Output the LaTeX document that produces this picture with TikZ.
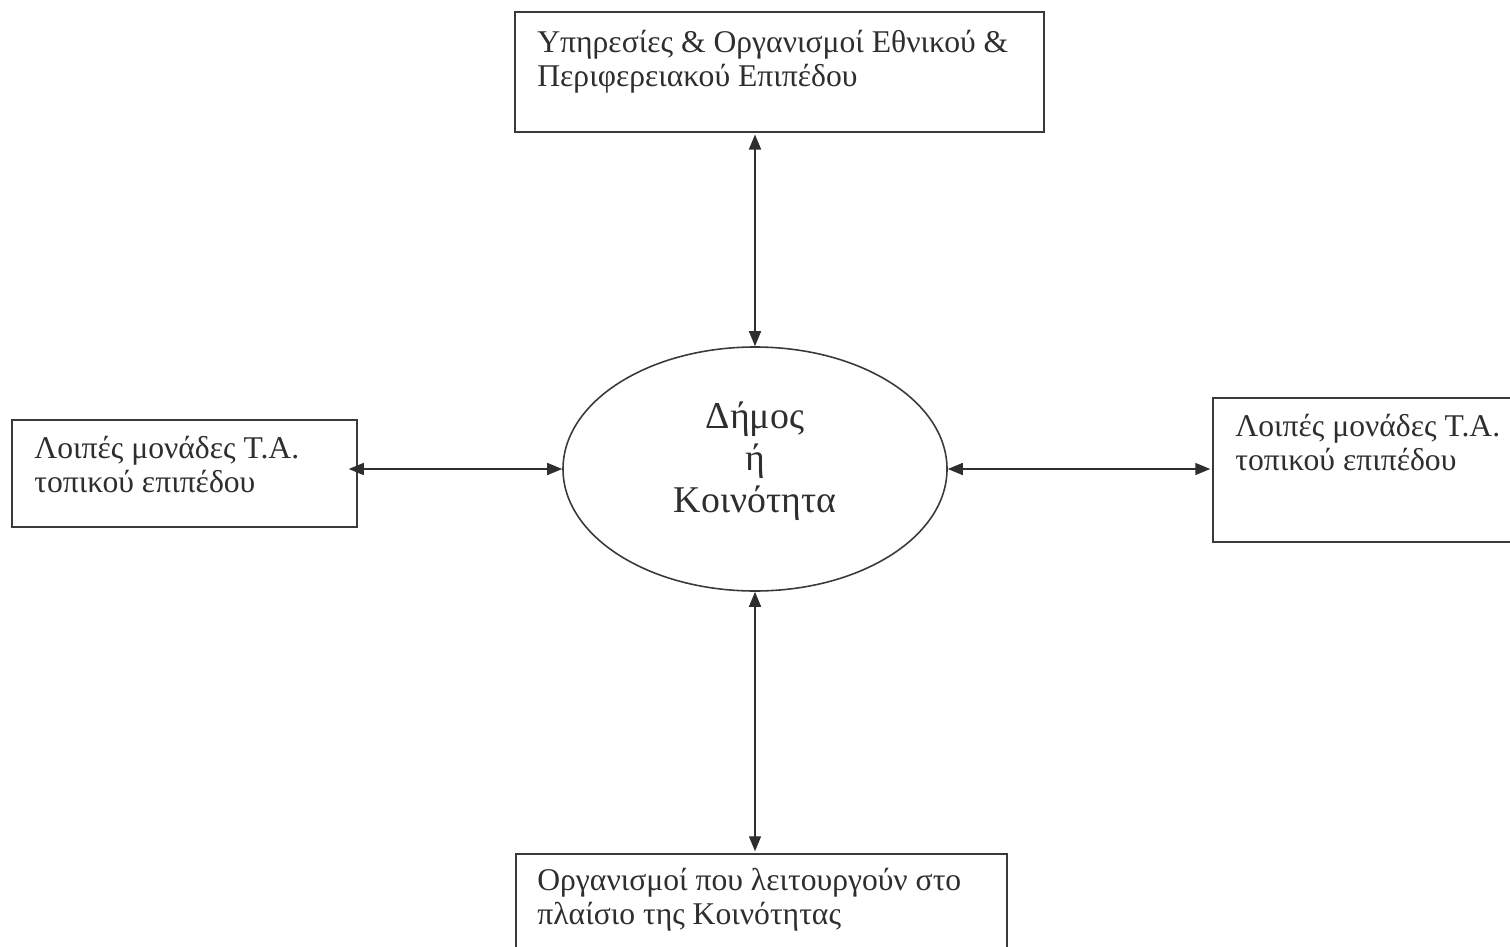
\documentclass[tikz,border=0pt]{standalone}
\usepackage{fontspec}
\setmainfont{Liberation Serif}
\usepackage{xcolor}
\usepackage{tikz}
\usetikzlibrary{calc,arrows.meta,shapes.geometric}
\definecolor{ink}{HTML}{2E2E2E}
\definecolor{frame}{HTML}{3A3A3A}
\tikzset{
  box/.style={draw=frame, line width=1pt, rectangle, inner sep=0pt, anchor=north west},
  oval/.style={draw=frame, line width=0.9pt, ellipse, inner sep=0pt,
    minimum width=7.68cm, minimum height=4.88cm},
  ovallab/.style={text=ink, inner sep=0pt, align=center,
    font=\fontsize{21.5}{24}\selectfont},
  lab/.style={text=ink, inner sep=0pt, anchor=north west, align=left,
    font=\fontsize{18}{19}\selectfont},
  link/.style={draw=ink, line width=0.85pt, {Triangle[length=0.3cm,width=0.24cm]}-{Triangle[length=0.3cm,width=0.24cm]}},
}

\begin{document}
\begin{tikzpicture}
  \useasboundingbox (0,0) rectangle (30.2,-18.94);
  \clip (0,0) rectangle (30.2,-18.94);

  \node[oval] (dimos) at (15.1,-9.38) {};
  \node[ovallab] (dimostxt) at ($(dimos)+(0,0.16)$) {Δήμος\\ή\\Κοινότητα};

  \node[box, minimum width=10.58cm, minimum height=2.4cm] (top) at (10.28,-0.22) {};
  \node[box, minimum width=6.9cm, minimum height=2.14cm] (left) at (0.22,-8.38) {};
  \node[box, minimum width=6.8cm, minimum height=2.88cm] (right) at (24.24,-7.94) {};
  \node[box, minimum width=9.82cm, minimum height=2.6cm] (bottom) at (10.3,-17.06) {};

  \node[lab] (toptxt) at ($(top.north west)+(0.46,-0.38)$) {Υπηρεσίες \& Οργανισμοί Εθνικού \&\\Περιφερειακού Επιπέδου};
  \node[lab] (lefttxt) at ($(left.north west)+(0.46,-0.34)$) {Λοιπές μονάδες Τ.Α.\\τοπικού επιπέδου};
  \node[lab] (righttxt) at ($(right.north west)+(0.46,-0.34)$) {Λοιπές μονάδες Τ.Α.\\τοπικού επιπέδου};
  \node[lab] (bottomtxt) at ($(bottom.north west)+(0.44,-0.3)$) {Οργανισμοί που λειτουργούν στο\\πλαίσιο της Κοινότητας};

  \draw[link] ([yshift=-1pt]top.south -| dimos.north) -- (dimos.north);
  \draw[link] ([xshift=-0.18cm]left.east |- dimos.west) -- (dimos.west);
  \draw[link] (dimos.east) -- ([xshift=-1pt]right.west |- dimos.east);
  \draw[link] (dimos.south) -- ([yshift=1pt]bottom.north -| dimos.south);
\end{tikzpicture}
\end{document}
